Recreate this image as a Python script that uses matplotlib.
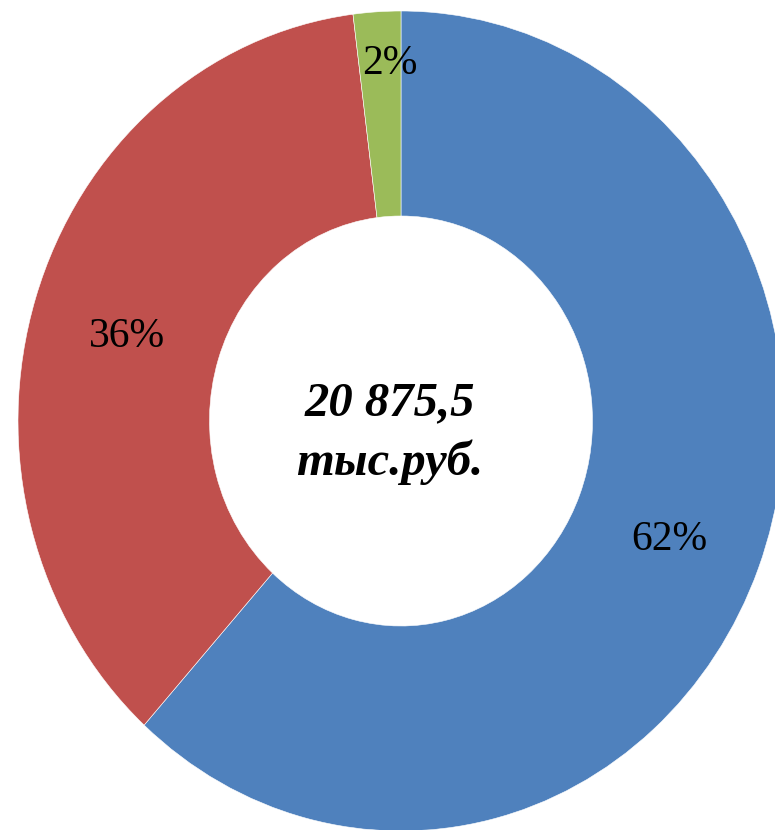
import matplotlib.pyplot as plt
import numpy as np

shares = [61.7, 36.3, 2.0]
labels = ["62%", "36%", "2%"]
colors = ["#4F81BD", "#C0504D", "#9BBB59"]
total_text = "20 875,5\nтыс.руб."

W, H = 775, 830
fig = plt.figure(figsize=(W / 100, H / 100), dpi=100)

# donut is a bit taller than wide in the reference
cx, cy = 401, 421
rx, ry = 383, 410
ax = fig.add_axes([(cx - rx) / W, (H - cy - ry) / H, 2 * rx / W, 2 * ry / H])

wedges, texts = ax.pie(shares, colors=colors, startangle=90, counterclock=False,
                       radius=1, wedgeprops=dict(width=0.5, edgecolor="white", linewidth=0.4))
ax.set_aspect("auto")
ax.set_xlim(-1, 1)
ax.set_ylim(-1, 1)
ax.axis("off")

for w, lab in zip(wedges, labels):
    ang = np.deg2rad((w.theta1 + w.theta2) / 2)
    if lab == "2%":
        x, y = 0.873 * np.cos(ang) + 0.026, 0.873 * np.sin(ang)
    else:
        x, y = 0.75 * np.cos(ang), 0.75 * np.sin(ang) - 0.02
    ax.text(x, y, lab, ha="center", va="center", fontsize=30, family="Liberation Serif")

ax.text(-0.03, -0.03, total_text, ha="center", va="center", fontsize=35,
        family="Liberation Serif", fontweight="bold", fontstyle="italic", linespacing=1.4)

fig.savefig("out.png", dpi=100)
